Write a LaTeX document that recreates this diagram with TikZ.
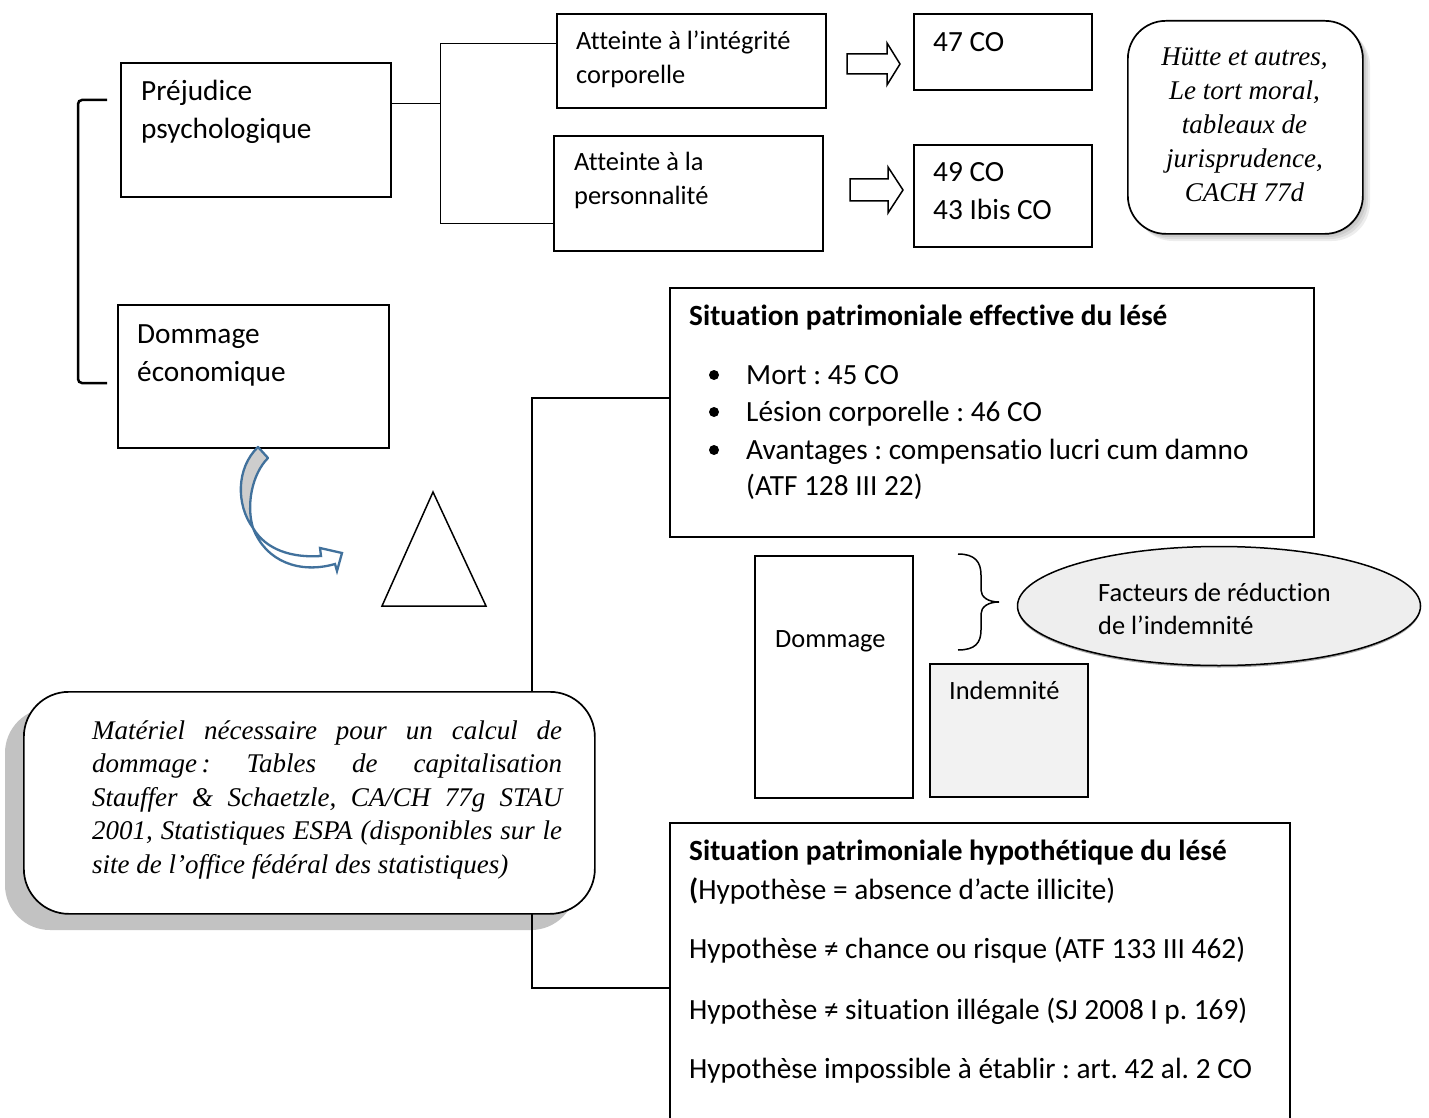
\documentclass[tikz,border=0pt]{standalone}
\usepackage{fontspec}
\setmainfont{Carlito}[Ligatures=NoCommon]
\newfontfamily\notefont{Liberation Serif}
\usetikzlibrary{shapes.geometric,calc}
\definecolor{arrowblue}{HTML}{41719C}
\definecolor{arrowgray}{HTML}{CDCDCD}
\definecolor{lightfill}{HTML}{F2F2F2}
\definecolor{ellfill}{HTML}{EEEEEE}
\definecolor{shadowgray}{HTML}{C2C2C2}
\hbadness=10000
\frenchspacing
\begin{document}
\begin{tikzpicture}[x=1pt,y=-1pt,
  box/.style={draw, line width=1.7pt, inner sep=0pt, anchor=north west},
  rbox/.style={box, fill=white, rounded corners=#1},
  txt/.style={inner sep=0pt, anchor=base west, font=\fontsize{29.3}{38}\selectfont},
  smalltxt/.style={inner sep=0pt, anchor=base west, font=\fontsize{26.4}{34}\selectfont},
  notetxt/.style={inner sep=0pt, font=\notefont\itshape\fontsize{27}{#1}\selectfont},
  link/.style={line width=1.5pt},
  blockarrow/.style={draw, line width=1.5pt, fill=white, line join=miter},
  bullet/.style={fill=black}
]
\useasboundingbox (0,0) rectangle (1429,1118);
\fill[white] (0,0) rectangle (1429,1118);

% left bracket grouping the two kinds of harm
\draw[line width=2.5pt, rounded corners=4pt] (107,100) -| (78,383) -- (107,383);

% boxes on the left
\node[box, minimum width=270, minimum height=134] (pp) at (120,62) {};
\node[txt] (tpp) at (141,101) {\parbox[t]{240pt}{Préjudice\\psychologique}};
\node[box, minimum width=271, minimum height=143] (de) at (117,304) {};
\node[txt] (tde) at (137,343) {\parbox[t]{240pt}{Dommage\\économique}};

% kinds of moral harm
\node[box, minimum width=269, minimum height=94] (ai) at (556,13) {};
\node[smalltxt] (tai) at (576,50) {\parbox[t]{240pt}{Atteinte à l’intégrité\\corporelle}};
\node[box, minimum width=269, minimum height=115] (ap) at (553,135) {};
\node[smalltxt] (tap) at (574,171) {\parbox[t]{240pt}{Atteinte à la\\personnalité}};

% fork from the first box
\coordinate (j0) at ($(pp.north east)!0.306!(pp.south east)$);
\coordinate (j1) at ($(ai.north west)!0.32!(ai.south west)$);
\coordinate (j2) at ($(ap.north west)!0.757!(ap.south west)$);
\draw[link] (j0) -- ++(49,0) coordinate (jx);
\draw[link] (j1) -| (jx) |- (j2);

% articles
\node[box, minimum width=178, minimum height=76] (c47) at (913,13) {};
\node[txt] (t47) at (933,52) {47 CO};
\node[box, minimum width=178, minimum height=102] (c49) at (913,144) {};
\node[txt] (t49) at (933,182) {\parbox[t]{150pt}{49 CO\\43 Ibis CO}};

% block arrows towards the articles
\draw[blockarrow] (847,54) -- (887,54) -- (887,43) -- (900,64) -- (887,85) -- (887,74) -- (847,74) -- cycle;
\draw[blockarrow] (850,179) -- (888,179) -- (888,167) -- (903,190) -- (888,213) -- (888,201) -- (850,201) -- cycle;

% reference note with soft shadow
\foreach \d in {2,4,6,8}
  \fill[black, opacity=0.07, rounded corners=38pt] (1127+\d,20+\d) rectangle (1362+\d,233+\d);
\node[rbox=38pt, minimum width=235, minimum height=213] (hut) at (1127,20) {};
\node[notetxt=34, anchor=base] (thut) at (1244.5,66) {\parbox[t]{230pt}{\centering Hütte et autres,\\Le tort moral,\\tableaux de\\jurisprudence,\\CACH 77d}};

% effective situation
\node[box, minimum width=644, minimum height=249] (ps) at (669,287) {};
\node[txt] (tps) at (689,325) {\textbf{Situation patrimoniale effective du lésé}};
\fill[bullet] (714,375) circle (5);
\fill[bullet] (714,412) circle (5);
\fill[bullet] (714,450) circle (5);
\node[txt] (b1) at (746,384) {Mort : 45 CO};
\node[txt] (b2) at (746,421) {Lésion corporelle : 46 CO};
\node[txt] (b3) at (746,459) {\parbox[t]{560pt}{Avantages : compensatio lucri cum damno\\[-1.5pt](ATF 128 III 22)}};

% hypothetical situation (continues below the page edge)
\node[box, minimum width=620, minimum height=330] (ph) at (669,822) {};
\node[txt] (h1) at (689,860) {\textbf{Situation patrimoniale hypothétique du lésé}};
\node[txt] (h2) at (689,899) {\textbf{(}Hypothèse = absence d’acte illicite)};
\node[txt] (h3) at (689,958) {Hypothèse ≠ chance ou risque (ATF 133 III 462)};
\node[txt] (h4) at (689,1019) {Hypothèse ≠ situation illégale (SJ 2008 I p. 169)};
\node[txt] (h5) at (689,1078) {Hypothèse impossible à établir : art. 42 al. 2 CO};

% link between the two situations
\coordinate (s0) at ($(ps.north west)!0.442!(ps.south west)$);
\draw[link] (s0) -- ++(-137,0) |- (ph.west);

% material note with hard shadow
\fill[shadowgray, rounded corners=45pt] (5,708) rectangle (576,930);
\draw[link] (532,900) -- (532,960);
\node[rbox=45pt, minimum width=571, minimum height=222] (mat) at (23,691) {};
\node[notetxt=33.5, anchor=base west] (tmat) at (92,739) {\parbox[t]{470pt}{Matériel nécessaire pour un calcul de\linebreak dommage\,: Tables de capitalisation\linebreak Stauffer \& Schaetzle, CA/CH 77g STAU\linebreak 2001, Statistiques ESPA (disponibles sur le\linebreak site de l’office fédéral des statistiques)}};

% triangle
\draw[line width=1.5pt, line join=miter] (433,492) -- (486,606) -- (382,606) -- cycle;

% curved arrow below the economic damage box
\filldraw[draw=arrowblue, fill=arrowgray, line width=2.3pt, line join=round]
  (258,447) -- (268,458) .. controls (252,474) and (246,505) .. (253,528)
  .. controls (236,505) and (236,468) .. (258,447) -- cycle;
\filldraw[draw=arrowblue, fill=white, line width=2.3pt, line join=miter]
  (253,528) .. controls (266,550) and (292,558) .. (321,556) -- (320,548) -- (342,553)
  -- (337,571) -- (335,564) .. controls (300,574) and (266,562) .. (253,528) -- cycle;

% damage and compensation
\node[box, minimum width=158, minimum height=242] (dm) at (754,555) {};
\node[smalltxt] (tdm) at (775,647) {Dommage};
\node[box, fill=lightfill, minimum width=158, minimum height=133] (ind) at (929,663) {};
\node[smalltxt] (tind) at (949,699) {Indemnité};

% brace and reduction factors
\draw[line width=1.5pt] (958,554) .. controls (975,554) and (981,562) .. (981,575) -- (981,590)
  .. controls (981,597) and (988,602) .. (999,602) .. controls (988,602) and (981,607) .. (981,614)
  -- (981,630) .. controls (981,643) and (975,650) .. (958,650);
\fill[black, opacity=0.35] (1219,608) ellipse [x radius=201.5, y radius=59.5];
\node[ellipse, draw, line width=1.5pt, fill=ellfill, inner sep=0pt, minimum width=403, minimum height=119] (ell) at (1219,606) {};
\node[smalltxt] (tell) at (1098,601) {\parbox[t]{260pt}{Facteurs de réduction\\[-1pt]de l’indemnité}};
\end{tikzpicture}
\end{document}
